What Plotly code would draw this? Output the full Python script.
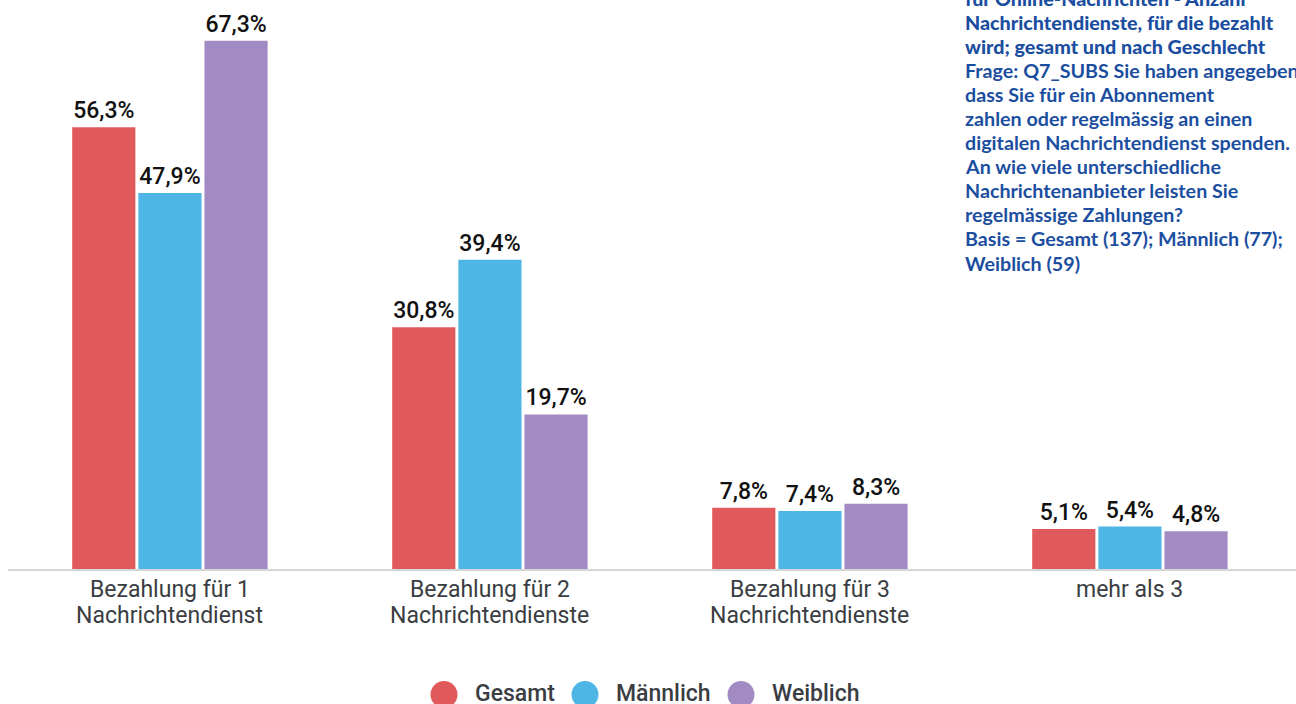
import plotly.graph_objects as go

category_lines = [["Bezahlung für 1", "Nachrichtendienst"],
                  ["Bezahlung für 2", "Nachrichtendienste"],
                  ["Bezahlung für 3", "Nachrichtendienste"],
                  ["mehr als 3"]]
series_names = ["Gesamt", "Männlich", "Weiblich"]
gesamt = [56.3, 30.8, 7.8, 5.1]
maennlich = [47.9, 39.4, 7.4, 5.4]
weiblich = [67.3, 19.7, 8.3, 4.8]
colors = ["#E05A5C", "#4DB6E4", "#A28BC3"]

title_bold = ["für Online-Nachrichten - Anzahl",
              "Nachrichtendienste, für die bezahlt",
              "wird; gesamt und nach Geschlecht"]
title_normal = ["Frage: Q7_SUBS Sie haben angegeben,",
                "dass Sie für ein Abonnement",
                "zahlen oder regelmässig an einen",
                "digitalen Nachrichtendienst spenden.",
                "An wie viele unterschiedliche",
                "Nachrichtenanbieter leisten Sie",
                "regelmässige Zahlungen?",
                "Basis = Gesamt (137); Männlich (77);",
                "Weiblich (59)"]

W, H = 1296, 704
ML, MR, MT, MB = 8, 0, 0, 135
PH = H - MT - MB
PW = W - ML - MR

def px_x(p):
    return (p - ML) / PW

def px_y(p):
    return (H - MB - p) / PH

x_idx = list(range(len(category_lines)))

fig = go.Figure()
for name, vals, col in zip(series_names, [gesamt, maennlich, weiblich], colors):
    fig.add_trace(go.Bar(
        x=x_idx, y=vals, name=name,
        marker=dict(color=col, line=dict(width=0)),
        texttemplate="%{y:.1f}%", textposition="outside",
        textfont=dict(family="Roboto", size=23, color="#111111", weight=500),
        cliponaxis=False, showlegend=False, hoverinfo="skip",
    ))

annotations = []
# category labels (tight line spacing)
for i, lines in zip(x_idx, category_lines):
    for j, line in enumerate(lines):
        annotations.append(dict(
            text=line, xref="x", yref="paper", x=i, y=px_y(589 + j * 26),
            xanchor="center", yanchor="middle", showarrow=False,
            font=dict(family="Roboto", size=23, color="#3a3d42"),
        ))

# title block
y0 = -2
step = 24.1
for i, line in enumerate(title_bold + title_normal):
    bold = i < len(title_bold)
    annotations.append(dict(
        text=line, xref="paper", yref="paper", x=px_x(963), y=px_y(y0 + i * step),
        xanchor="left", yanchor="middle", showarrow=False,
        font=dict(family="Lato", size=19.7, color="#1b4e9f", weight=900 if bold else 700),
    ))

# custom legend
legend_circle_x = [444, 585, 741]
shapes = []
for name, col, cx in zip(series_names, colors, legend_circle_x):
    shapes.append(dict(
        type="circle", xref="paper", yref="paper", xsizemode="pixel", ysizemode="pixel",
        xanchor=px_x(cx), yanchor=px_y(694.5), x0=-13.5, x1=13.5, y0=-13.5, y1=13.5,
        fillcolor=col, line=dict(width=0),
    ))
    annotations.append(dict(
        text=name, xref="paper", yref="paper", x=px_x(cx + 29), y=px_y(693),
        xanchor="left", yanchor="middle", showarrow=False,
        font=dict(family="Roboto", size=23, color="#3a3d42", weight=500),
    ))

fig.update_layout(
    width=W, height=H,
    margin=dict(l=ML, r=MR, t=MT, b=MB),
    paper_bgcolor="white", plot_bgcolor="white",
    barmode="group", bargap=0.38, bargroupgap=0.045,
    separators=",.",
    xaxis=dict(
        tickmode="array", tickvals=x_idx, showticklabels=False,
        range=[-0.506, 3.519], showgrid=False, zeroline=False,
        showline=True, linecolor="#d6d6d6", linewidth=2,
        ticks="", ticklen=0,
    ),
    yaxis=dict(range=[0, 72.5], visible=False),
    annotations=annotations,
    shapes=shapes,
    showlegend=False,
)

fig.write_html("out.html", config={"displayModeBar": False},
               post_script="document.body.style.margin='0';document.body.style.overflow='hidden';")
